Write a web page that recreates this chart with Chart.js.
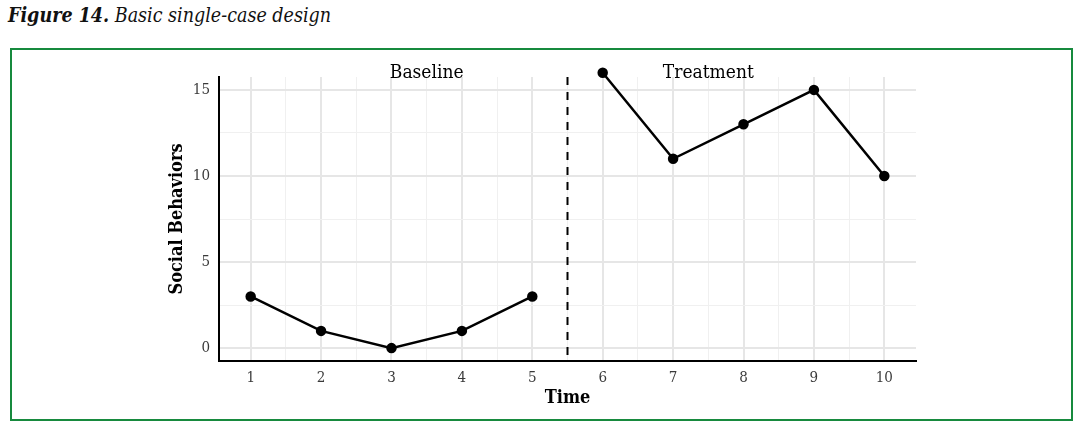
<!DOCTYPE html>
<html>
<head>
<meta charset="utf-8">
<script src="https://cdn.jsdelivr.net/npm/chart.js@4"></script>
<style>
  body { margin: 0; background: #fff; }
  #title {
    position: absolute; left: 8px; top: 4px;
    font-family: 'DejaVu Serif Condensed', 'DejaVu Serif', serif;
    font-style: italic; font-size: 19.5px; color: #111;
  }
  #title b { font-weight: bold; }
  #box {
    position: absolute; left: 10px; top: 48px;
    width: 1059px; height: 369px;
    border: 2px solid #178a3e;
  }
</style>
</head>
<body>
<div id="title"><b>Figure 14.</b> Basic single-case design</div>
<div id="box"><canvas id="chSingleCase" width="1059" height="369"></canvas></div>
<script>
/* single-case design: baseline vs treatment */

// data
var baselineTime = [1, 2, 3, 4, 5];
var baselineValues = [3, 1, 0, 1, 3];
var treatmentTime = [6, 7, 8, 9, 10];
var treatmentValues = [16, 11, 13, 15, 10];
var phaseLabels = ['Baseline', 'Treatment'];
var phaseLabelX = [3.5, 7.5];
var phaseLabelY = 16;
var phaseChange = 5.5;

// ticks
var xTickValues = [1, 2, 3, 4, 5, 6, 7, 8, 9, 10];
var yTickValues = [0, 5, 10, 15];

var serif = "'DejaVu Serif Condensed', 'DejaVu Serif', serif";

function toPoints(xs, ys) {
  return xs.map(function (x, i) { return {x: x, y: ys[i]}; });
}

// major ticks plus a minor line halfway between each pair
function withMinor(values) {
  var out = [];
  values.forEach(function (v, i) {
    out.push({value: v, major: true});
    if (i < values.length - 1) out.push({value: (v + values[i + 1]) / 2, major: false});
  });
  return out;
}

function gridColor(ctx) { return ctx.tick && ctx.tick.major ? '#e6e6e6' : '#f0f0f0'; }
function gridWidth(ctx) { return ctx.tick && ctx.tick.major ? 2 : 1; }

var phasePlugin = {
  id: 'phases',
  afterDatasetsDraw: function (chart) {
    var ctx = chart.ctx, xs = chart.scales.x, ys = chart.scales.y;
    var area = chart.chartArea;
    ctx.save();
    // phase change line
    var px = xs.getPixelForValue(phaseChange);
    ctx.strokeStyle = '#000';
    ctx.lineWidth = 2;
    ctx.setLineDash([8, 7]);
    ctx.beginPath();
    ctx.moveTo(px, area.top);
    ctx.lineTo(px, area.bottom);
    ctx.stroke();
    // phase labels
    ctx.setLineDash([]);
    ctx.fillStyle = '#000';
    ctx.font = '19px ' + serif;
    ctx.textAlign = 'center';
    ctx.textBaseline = 'middle';
    phaseLabels.forEach(function (lbl, i) {
      ctx.fillText(lbl, xs.getPixelForValue(phaseLabelX[i]), ys.getPixelForValue(phaseLabelY));
    });
    ctx.restore();
  }
};

var lineStyle = {
  showLine: true,
  borderColor: '#000',
  backgroundColor: '#000',
  borderWidth: 2.5,
  pointRadius: 4,
  pointHoverRadius: 4,
  clip: false
};

new Chart(document.getElementById('chSingleCase'), {
  type: 'scatter',
  data: {
    datasets: [
      Object.assign({label: phaseLabels[0], data: toPoints(baselineTime, baselineValues)}, lineStyle),
      Object.assign({label: phaseLabels[1], data: toPoints(treatmentTime, treatmentValues)}, lineStyle)
    ]
  },
  options: {
    responsive: false,
    animation: false,
    layout: {padding: {left: 151, top: 27, right: 155, bottom: 10}},
    plugins: {legend: {display: false}, tooltip: {enabled: false}},
    scales: {
      x: {
        type: 'linear',
        min: 0.55,
        max: 10.45,
        afterBuildTicks: function (scale) { scale.ticks = withMinor(xTickValues); },
        afterFit: function (scale) { scale.height = 48; },
        grid: {color: gridColor, lineWidth: gridWidth, drawTicks: false, tickLength: 0},
        border: {display: true, color: '#000', width: 2},
        ticks: {
          padding: 8,
          color: '#3a3a3a',
          font: {family: serif, size: 15},
          callback: function (v) { return xTickValues.indexOf(v) >= 0 ? v : ''; }
        },
        title: {display: true, text: 'Time', color: '#000', padding: 0,
          font: {family: serif, size: 18, weight: 'bold'}}
      },
      y: {
        type: 'linear',
        min: -0.75,
        max: 15.75,
        afterBuildTicks: function (scale) { scale.ticks = withMinor(yTickValues); },
        afterFit: function (scale) { scale.width = 56; },
        grid: {color: gridColor, lineWidth: gridWidth, drawTicks: false, tickLength: 0},
        border: {display: true, color: '#000', width: 2},
        ticks: {
          padding: 9,
          color: '#3a3a3a',
          font: {family: serif, size: 15},
          callback: function (v) { return yTickValues.indexOf(v) >= 0 ? v : ''; }
        },
        title: {display: true, text: 'Social Behaviors', color: '#000', padding: {top: 4, bottom: 0},
          font: {family: serif, size: 18, weight: 'bold'}}
      }
    }
  },
  plugins: [phasePlugin]
});
</script>
</body>
</html>
